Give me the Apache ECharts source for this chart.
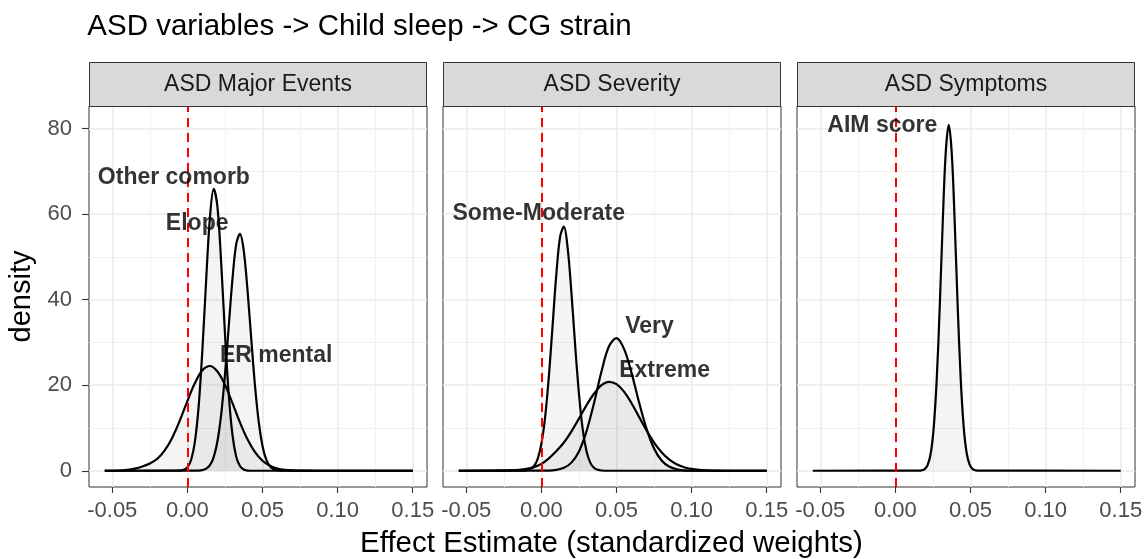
<!DOCTYPE html>
<html>
<head>
<meta charset="utf-8">
<script src="https://cdn.jsdelivr.net/npm/echarts@6/dist/echarts.min.js"></script>
<style>html,body{margin:0;padding:0;background:#fff;}#c{width:1147px;height:559px;}</style>
</head>
<body>
<div id="c"></div>
<script>
// ---- data ----
const facetNames = ['ASD Major Events', 'ASD Severity', 'ASD Symptoms'];
const xTicks = [-0.05, 0, 0.05, 0.1, 0.15];
const yTicks = [0, 20, 40, 60, 80];

// panel 1: ASD Major Events
const otherComorbX = [-0.055, -0.01, -0.005, -0.0025, 0, 0.0025, 0.005, 0.0075, 0.01, 0.0125, 0.015, 0.0175, 0.02, 0.0225, 0.025, 0.0275, 0.03, 0.0325, 0.035, 0.0375, 0.04, 0.045, 0.15];
const otherComorbY = [0, 0, 0.02, 0.22, 0.81, 2.56, 6.8, 15.1, 28.4, 44.7, 59.2, 65.9, 61.7, 48.6, 32.1, 17.9, 8.4, 3.3, 1.1, 0.3, 0.05, 0, 0];
const elopeX = [-0.055, 0.0075, 0.01, 0.0125, 0.015, 0.0175, 0.02, 0.0225, 0.025, 0.0275, 0.03, 0.0325, 0.035, 0.0375, 0.04, 0.0425, 0.045, 0.0475, 0.05, 0.0525, 0.055, 0.0575, 0.06, 0.065, 0.15];
const elopeY = [0, 0.04, 0.15, 0.48, 1.3, 3.2, 6.9, 13.2, 22.4, 33.7, 44.8, 53.0, 55.4, 51.5, 42.3, 30.9, 19.9, 11.4, 5.8, 2.6, 1.05, 0.37, 0.12, 0, 0];
const erMentalX = [-0.055, -0.045, -0.04, -0.035, -0.03, -0.025, -0.02, -0.015, -0.01, -0.005, 0, 0.005, 0.01, 0.015, 0.02, 0.025, 0.03, 0.035, 0.04, 0.045, 0.05, 0.055, 0.06, 0.065, 0.07, 0.075, 0.085, 0.15];
const erMentalY = [0, 0.05, 0.2, 0.5, 1.0, 1.7, 2.8, 4.8, 7.8, 11.8, 16.3, 20.5, 23.5, 24.5, 23.2, 20.1, 15.8, 11.3, 7.35, 4.35, 2.34, 1.15, 0.51, 0.21, 0.08, 0.03, 0, 0];

// panel 2: ASD Severity
const someModX = [-0.055, -0.0125, -0.01, -0.0075, -0.005, -0.0025, 0, 0.0025, 0.005, 0.0075, 0.01, 0.0125, 0.015, 0.0175, 0.02, 0.0225, 0.025, 0.0275, 0.03, 0.0325, 0.035, 0.0375, 0.04, 0.045, 0.15];
const someModY = [0, 0.02, 0.1, 0.36, 1.05, 2.75, 6.3, 12.6, 22.2, 34.2, 46.2, 54.8, 57.1, 52.0, 41.6, 29.2, 18.0, 9.7, 4.6, 1.9, 0.69, 0.22, 0.06, 0, 0];
const veryX = [-0.055, 0.005, 0.01, 0.015, 0.02, 0.025, 0.03, 0.035, 0.04, 0.045, 0.05, 0.055, 0.06, 0.065, 0.07, 0.075, 0.08, 0.085, 0.09, 0.095, 0.1, 0.11, 0.15];
const veryY = [0, 0.05, 0.21, 0.69, 1.9, 4.5, 9.2, 15.8, 23.2, 29.1, 31.0, 28.5, 22.9, 16.0, 9.8, 5.2, 2.4, 0.98, 0.34, 0.1, 0.03, 0, 0];
const extremeX = [-0.055, -0.03, -0.025, -0.02, -0.015, -0.01, -0.005, 0, 0.005, 0.01, 0.015, 0.02, 0.025, 0.03, 0.035, 0.04, 0.045, 0.05, 0.055, 0.06, 0.065, 0.07, 0.075, 0.08, 0.085, 0.09, 0.095, 0.1, 0.105, 0.11, 0.115, 0.125, 0.15];
const extremeY = [0, 0.01, 0.03, 0.08, 0.2, 0.42, 0.85, 1.6, 2.9, 4.6, 6.6, 9.2, 12.2, 15.3, 18.0, 20.0, 20.8, 20.25, 18.5, 15.8, 12.6, 9.45, 6.6, 4.35, 2.67, 1.54, 0.83, 0.42, 0.2, 0.09, 0.04, 0, 0];

// panel 3: ASD Symptoms
const aimX = [-0.055, 0.0155, 0.0175, 0.0195, 0.0215, 0.0235, 0.0255, 0.0275, 0.0295, 0.0315, 0.0335, 0.0355, 0.0375, 0.0395, 0.0415, 0.0435, 0.0455, 0.0475, 0.0495, 0.0515, 0.0535, 0.0555, 0.15];
const aimY = [0, 0.02, 0.1, 0.39, 1.37, 4.03, 10.1, 21.3, 38.2, 58.0, 74.4, 80.9, 74.4, 58.0, 38.2, 21.3, 10.1, 4.03, 1.37, 0.39, 0.1, 0.02, 0];

// text labels placed in each panel (data coordinates)
const labelNames = ['Other comorb', 'Elope', 'ER mental', 'Some-Moderate', 'Very', 'Extreme', 'AIM score'];
const labelX = [-0.009, 0.0065, 0.0591, -0.0018, 0.072, 0.082, -0.0087];
const labelY = [68.6, 57.9, 27.0, 60.2, 33.6, 23.4, 80.8];
const labelPanel = [0, 0, 0, 1, 1, 1, 2];
const refLineX = 0;

// ---- layout / style ----
const FONT = '"Liberation Sans", Arial, Helvetica, sans-serif';
const panelLeft = [89, 443, 797];
const panelW = 338, panelTop = 106, panelH = 381;
const stripTop = 62, stripH = 44;
const xMin = -0.0655, xMax = 0.1595, yMin = -3.8, yMax = 85.3;

const curves = [
  {name: 'Other comorb', panel: 0, x: otherComorbX, y: otherComorbY},
  {name: 'Elope', panel: 0, x: elopeX, y: elopeY},
  {name: 'ER mental', panel: 0, x: erMentalX, y: erMentalY},
  {name: 'Some-Moderate', panel: 1, x: someModX, y: someModY},
  {name: 'Very', panel: 1, x: veryX, y: veryY},
  {name: 'Extreme', panel: 1, x: extremeX, y: extremeY},
  {name: 'AIM score', panel: 2, x: aimX, y: aimY}
];

const grids = [], xAxes = [], yAxes = [], series = [], graphics = [];
for (let i = 0; i < 3; i++) {
  grids.push({left: panelLeft[i], top: panelTop, width: panelW, height: panelH,
    show: true, borderColor: '#333333', borderWidth: 1, backgroundColor: 'transparent'});
  xAxes.push({
    type: 'value', gridIndex: i, min: xMin, max: xMax, position: 'bottom',
    axisLine: {show: false, onZero: false},
    axisTick: {show: true, length: 6, customValues: xTicks, lineStyle: {color: '#333333', width: 1.1}},
    axisLabel: {show: true, customValues: xTicks, margin: 13, color: '#4D4D4D', fontSize: 22, fontFamily: FONT,
      formatter: v => v.toFixed(2)},
    splitLine: {show: true, lineStyle: {color: '#EBEBEB', width: 1.6}},
    minorTick: {show: false, splitNumber: 2},
    minorSplitLine: {show: true, lineStyle: {color: '#F1F1F1', width: 1}}
  });
  yAxes.push({
    type: 'value', gridIndex: i, min: yMin, max: yMax, position: 'left',
    axisLine: {show: false, onZero: false},
    axisTick: {show: i === 0, length: 7, customValues: yTicks, lineStyle: {color: '#333333', width: 1.1}},
    axisLabel: {show: i === 0, customValues: yTicks, margin: 17, color: '#4D4D4D', fontSize: 22, fontFamily: FONT},
    splitLine: {show: true, lineStyle: {color: '#EBEBEB', width: 1.6}},
    minorTick: {show: false, splitNumber: 2},
    minorSplitLine: {show: true, lineStyle: {color: '#F1F1F1', width: 1}}
  });
  // strip
  graphics.push({type: 'rect', z: 10, shape: {x: panelLeft[i] + 0.5, y: stripTop + 0.5, width: panelW - 1, height: stripH},
    style: {fill: '#D9D9D9', stroke: '#333333', lineWidth: 1}});
  graphics.push({type: 'text', z: 11, x: panelLeft[i] + panelW / 2, y: stripTop + stripH / 2 + 1,
    style: {text: facetNames[i], fill: '#1A1A1A', fontSize: 23, fontFamily: FONT, align: 'center', verticalAlign: 'middle'}});
}

curves.forEach(c => {
  series.push({
    type: 'line', name: c.name, xAxisIndex: c.panel, yAxisIndex: c.panel,
    data: c.x.map((v, k) => [v, c.y[k]]),
    smooth: 0.35, showSymbol: false, symbol: 'none', silent: true,
    lineStyle: {color: '#000000', width: 2.2},
    areaStyle: {color: 'rgba(0,0,0,0.06)', origin: 0},
    z: 3
  });
});

for (let i = 0; i < 3; i++) {
  // reference line at zero
  series.push({
    type: 'line', xAxisIndex: i, yAxisIndex: i, data: [], silent: true, z: 5,
    markLine: {symbol: 'none', silent: true, animation: false, label: {show: false},
      lineStyle: {color: '#FF0000', type: [9, 6], width: 2},
      data: [{xAxis: refLineX}]}
  });
  // text labels
  const pts = [];
  labelNames.forEach((n, k) => { if (labelPanel[k] === i) pts.push({value: [labelX[k], labelY[k]], name: n}); });
  series.push({
    type: 'scatter', xAxisIndex: i, yAxisIndex: i, symbolSize: 0, silent: true, z: 6,
    data: pts,
    label: {show: true, position: 'inside', formatter: p => p.name, color: '#000000', textBorderWidth: 0,
      fontSize: 23, fontWeight: 'bold', fontFamily: FONT, align: 'center', verticalAlign: 'middle'}
  });
}

// titles
graphics.push({type: 'text', x: 87.3, y: 27, style: {text: 'ASD variables -> Child sleep -> CG strain', fill: '#000000',
  fontSize: 29.5, fontFamily: FONT, align: 'left', verticalAlign: 'middle'}});
graphics.push({type: 'text', x: 611.5, y: 544, style: {text: 'Effect Estimate (standardized weights)', fill: '#000000',
  fontSize: 29.5, fontFamily: FONT, align: 'center', verticalAlign: 'middle'}});
graphics.push({type: 'text', x: 22, y: 296.5, rotation: Math.PI / 2, style: {text: 'density', fill: '#000000',
  fontSize: 29, fontFamily: FONT, align: 'center', verticalAlign: 'middle'}});

const chart = echarts.init(document.getElementById('c'), null, {renderer: 'canvas'});
chart.setOption({
  animation: false,
  backgroundColor: '#ffffff',
  grid: grids, xAxis: xAxes, yAxis: yAxes, series: series,
  graphic: graphics
});
</script>
</body>
</html>
